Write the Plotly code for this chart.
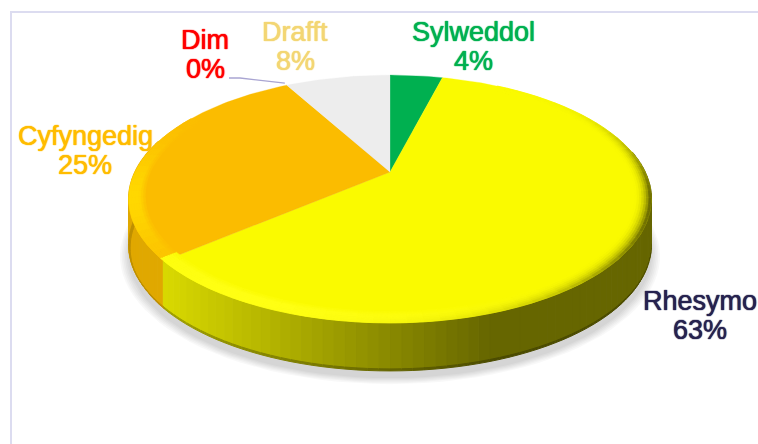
import numpy as np
import plotly.graph_objects as go

# Data, clockwise from 12 o'clock
categories = ["Sylweddol", "Rhesymo", "Cyfyngedig", "Dim", "Drafft"]
percent_labels = [4, 63, 25, 0, 8]
# Share of the circle each slice visibly occupies as drawn in the picture
drawn_share = [4, 59.8, 28.2, 0, 8]
slice_colors = ["#00B050", "#FAFA00", "#FBBC00", "#FF0000", "#EDEDED"]
label_colors = ["#00B050", "#26224F", "#FFBC00", "#FF0000", "#F3D673"]
label_pos = [(473, 32, 61), (700, 301, 330), (85, 136, 165), (205, 40, 69), (295, 32, 61)]

W, H = 758, 444
CX, CY, R, K, P = 390.0, 172.0, 255.0, 118.0, 0.218
DEPTH = 49.0


def project(a, s=1.0, drop=0.0):
    a = np.asarray(a, dtype=float)
    X, Y = s * np.sin(a), s * np.cos(a)
    w = 1 + P * Y
    return CX + R * X / w, CY - K * Y / w + drop


def hexrgb(c):
    return np.array([int(c[i:i + 2], 16) for i in (1, 3, 5)], dtype=float)


def css(v):
    v = np.round(v).astype(int)
    return f"rgb({v[0]},{v[1]},{v[2]})"


fig = go.Figure()


def poly(xs, ys, color, lw=0.8):
    fig.add_trace(go.Scatter(x=list(xs), y=list(ys), mode="lines", fill="toself",
                             fillcolor=color, line=dict(color=color, width=lw),
                             hoverinfo="skip", showlegend=False))


edges = 2 * np.pi * np.cumsum([0] + drawn_share) / sum(drawn_share)
yellow_i, orange_i = categories.index("Rhesymo"), categories.index("Cyfyngedig")
split = edges[orange_i]

# soft shadow under the pie
full = np.linspace(0, 2 * np.pi, 121)
for grow in [1.032, 1.026, 1.02, 1.014, 1.008, 1.002]:
    xs, ys = project(full, grow, DEPTH + 6)
    poly(xs, ys, "rgba(0,0,0,0.026)", lw=0)

# side wall
YELLOW_L, YELLOW_R = hexrgb("#D8D800"), hexrgb("#666600")
ORANGE_SIDE = hexrgb("#E0A800")
step = np.radians(2.0)
side_angles = np.arange(np.radians(80), np.radians(285), step)
for a in side_angles:
    a2 = a + step
    mid = a + step / 2
    x0, y0 = project([a, a2])
    x1, y1 = project([a2, a], 1.0, DEPTH - 3)
    x2, y2 = project([a2, a], 0.995, DEPTH)
    xm = float(project(mid)[0])
    if mid < split:
        t = np.clip((xm - 168) / (490 - 168), 0, 1)
        col = YELLOW_L + (YELLOW_R - YELLOW_L) * t
        dark = col * 0.74
    else:
        col = ORANGE_SIDE
        dark = col * 0.85
    poly(np.r_[x0, x1], np.r_[y0, y1], css(col), lw=1.4)
    poly(np.r_[x1[::-1], x2], np.r_[y1[::-1], y2], css(dark), lw=1.0)

# top face: one wedge per category, from the data
for i, color in enumerate(slice_colors):
    if drawn_share[i] == 0:
        continue
    arc = np.linspace(edges[i], edges[i + 1], max(4, int(drawn_share[i] * 3)))
    xs, ys = project(arc)
    poly(np.r_[CX, xs, CX], np.r_[CY, ys, CY], color, lw=0.3)

# bevel round the rim
rows = np.linspace(0.94, 1.0, 8)
DARK = hexrgb("#6E6E00")
deg_step = 3.0
for deg0 in np.arange(30, 300, deg_step):
    mid_deg = deg0 + deg_step / 2
    a = np.radians(deg0)
    a2 = np.radians(deg0 + deg_step)
    idx = int(np.searchsorted(edges, np.radians(mid_deg), side="right") - 1)
    base = hexrgb(slice_colors[idx])
    sigma = 30 if mid_deg < 105 else 42
    shade = np.exp(-((mid_deg - 105) / sigma) ** 2)
    if idx == yellow_i:
        lit = hexrgb("#FFFF14")
        glow = np.exp(-((mid_deg - 205) / 45) ** 2)
    else:
        lit = hexrgb("#FFD800")
        glow = np.exp(-((mid_deg - 258) / 24) ** 2)
    for r0, r1 in zip(rows[:-1], rows[1:]):
        t = (r1 - rows[0]) / (rows[-1] - rows[0])
        c = base + (lit - base) * glow * min(1, t * 2.2)
        c = c + (DARK - c) * shade * t ** 2.4
        x0, y0 = project([a, a2], r0)
        x1, y1 = project([a2, a], r1)
        poly(np.r_[x0, x1], np.r_[y0, y1], css(c), lw=0.8)

# leader line to the zero slice
dim_i = categories.index("Dim")
lx, ly = project(edges[dim_i])
fig.add_trace(go.Scatter(x=[229, 240, float(lx) - 2], y=[78, 78, float(ly) - 2], mode="lines",
                         line=dict(color="#A9A5D2", width=1.3),
                         hoverinfo="skip", showlegend=False))

# labels, each line on its own so the spacing stays tight
annotations = []
for name, pct, col, (x, y1, y2) in zip(categories, percent_labels, label_colors, label_pos):
    for txt, y in ((name, y1), (f"{pct}%", y2)):
        annotations.append(dict(x=x, y=y, xref="x", yref="y", text=txt, showarrow=False,
                                xanchor="center", yanchor="middle",
                                font=dict(family="Liberation Sans", size=27, color=col,
                                          shadow=f"0 0 1px {col}, 0 0 1px {col}")))

shapes = [
    dict(type="line", xref="x", yref="y", x0=11, x1=11, y0=12, y1=444,
         line=dict(color="#DCDCF0", width=2)),
    dict(type="line", xref="x", yref="y", x0=10, x1=758, y0=12, y1=12,
         line=dict(color="#DCDCF0", width=2)),
]

fig.update_layout(
    width=W, height=H, margin=dict(l=0, r=0, t=0, b=0),
    paper_bgcolor="white", plot_bgcolor="white", showlegend=False,
    xaxis=dict(range=[0, W], visible=False, fixedrange=True),
    yaxis=dict(range=[H, 0], visible=False, fixedrange=True),
    annotations=annotations, shapes=shapes,
)
fig.write_html("out.html", config={"displayModeBar": False},
               post_script="document.body.style.margin='0';document.body.style.overflow='hidden';")
